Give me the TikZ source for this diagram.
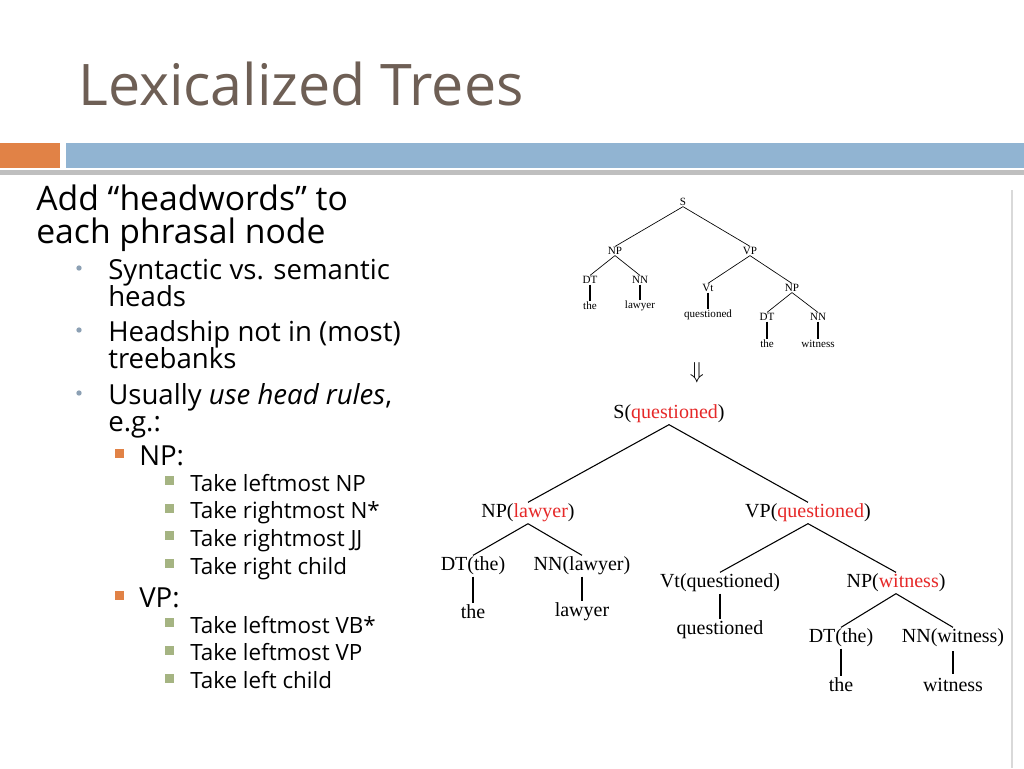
\documentclass[tikz,border=0pt]{standalone}
\usepackage{fontspec}
\setmainfont{Open Sans}
\newfontfamily\treefont{Liberation Serif}
\usepackage{amssymb}
\definecolor{titlecol}{RGB}{110,95,85}
\definecolor{barblue}{RGB}{145,180,210}
\definecolor{barorange}{RGB}{225,130,70}
\definecolor{bulgray}{RGB}{140,160,180}
\definecolor{bulgreen}{RGB}{165,180,130}
\definecolor{headred}{RGB}{230,40,40}
\tikzset{
  big/.style={font=\treefont\fontsize{15}{16}\selectfont, inner sep=1pt},
  small/.style={font=\treefont\fontsize{8.3}{9}\selectfont, inner sep=0.5pt},
  edge/.style={line width=0.8pt},
  leaf/.style={line width=1.4pt, shorten <=2pt, shorten >=2pt},
  sedge/.style={line width=0.5pt},
  sleaf/.style={line width=0.9pt},
  txt/.style={anchor=base west, inner sep=0pt, text=black},
}
\newcommand{\hw}[1]{\textcolor{headred}{#1}}
\begin{document}
\begin{tikzpicture}[x=0.75pt,y=-0.75pt]
\useasboundingbox (0,0) rectangle (1024,768);
\fill[white] (0,0) rectangle (1024,768);

% header bars
\fill[black!25] (0,170) rectangle (1024,175);
\fill[barorange] (0,143) rectangle (60,168);
\fill[barblue] (66,143) rectangle (1024,168);
\draw[black!15, line width=1pt] (1012,190) -- (1012,768);

\node[anchor=base west, inner sep=0pt, text=titlecol, font=\fontsize{43}{45}\selectfont] (title) at (78,105) {Lexicalized Trees};

% bullet text
\node[txt, font=\fontsize{25.3}{26}\selectfont] (l1a) at (36,210) {Add “headwords” to};
\node[txt, font=\fontsize{25.3}{26}\selectfont] (l1b) at (36,243) {each phrasal node};
\begin{scope}[font=\fontsize{20.7}{22}\selectfont]
\node[txt] (l2a) at (108,279) {Syntactic vs. semantic};
\node[txt] (l2b) at (108,306) {heads};
\node[txt] (l2c) at (108,341) {Headship not in (most)};
\node[txt] (l2d) at (108,368) {treebanks};
\node[txt] (l2e) at (108,404) {Usually \textit{use head rules},};
\node[txt] (l2f) at (108,431) {e.g.:};
\node[txt] (l3a) at (139,465) {NP:};
\node[txt] (l3b) at (139,607) {VP:};
\end{scope}
\foreach \y in {268,330,393} \fill[bulgray] (79,\y) circle (2pt);
\foreach \y in {455,597} \fill[barorange] (115,\y-6) rectangle (124,\y+3);
\begin{scope}[font=\fontsize{16.8}{18}\selectfont]
\foreach \t [count=\i] in {Take leftmost NP,Take rightmost N*,Take rightmost JJ,Take right child}
  \node[txt] at (190,491+27.7*\i-27.7) {\t};
\foreach \t [count=\i] in {Take leftmost VB*,Take leftmost VP,Take left child}
  \node[txt] at (190,633+27.7*\i-27.7) {\t};
\end{scope}
\foreach \y in {482,510,537,565,624,652,680} \fill[bulgreen] (165,\y-6) rectangle (174,\y+3);

% small tree
\node[small] (s) at (683,202) {S};
\node[small] (snp) at (615,251) {NP};
\node[small] (svp) at (750,251) {VP};
\node[small] (sdt1) at (590,280) {DT};
\node[small] (snn1) at (640,280) {NN};
\node[small] (sw1) at (590,306) {the};
\node[small] (sw2) at (640,306) {lawyer};
\node[small] (svt) at (708,288) {Vt};
\node[small] (sw3) at (708,315) {questioned};
\node[small] (snp2) at (792,288) {NP};
\node[small] (sdt2) at (767,317) {DT};
\node[small] (snn2) at (818,317) {NN};
\node[small] (sw4) at (767,344) {the};
\node[small] (sw5) at (818,344) {witness};
\draw[sedge] (s.south) -- (snp.north) (s.south) -- (svp.north)
  (snp.south) -- (sdt1.north) (snp.south) -- (snn1.north)
  (svp.south) -- (svt.north) (svp.south) -- (snp2.north)
  (snp2.south) -- (sdt2.north) (snp2.south) -- (snn2.north);
\draw[sleaf] (sdt1) -- (sw1) (snn1) -- (sw2) (svt) -- (sw3) (sdt2) -- (sw4) (snn2) -- (sw5);
\node[font=\fontsize{16}{16}\selectfont] (arr) at (697,373) {$\Downarrow$};

% lexicalized tree
\node[big] (S) at (669,414) {S(\hw{questioned})};
\node[big] (NPa) at (528,513) {NP(\hw{lawyer})};
\node[big] (VP) at (808,513) {VP(\hw{questioned})};
\node[big] (DTa) at (473,566) {DT(the)};
\node[big] (NNa) at (582,566) {NN(lawyer)};
\node[big] (Wa) at (473,612) {the};
\node[big] (Wb) at (582,612) {lawyer};
\node[big] (Vt) at (720,583) {Vt(questioned)};
\node[big] (Wc) at (720,630) {questioned};
\node[big] (NPb) at (896,583) {NP(\hw{witness})};
\node[big] (DTb) at (841,638) {DT(the)};
\node[big] (NNb) at (953,638) {NN(witness)};
\node[big] (Wd) at (841,685) {the};
\node[big] (We) at (953,685) {witness};
\draw[edge] (S.south) -- (NPa.north) (S.south) -- (VP.north)
  (NPa.south) -- (DTa.north) (NPa.south) -- (NNa.north)
  (VP.south) -- (Vt.north) (VP.south) -- (NPb.north)
  (NPb.south) -- (DTb.north) (NPb.south) -- (NNb.north);
\draw[leaf] (DTa) -- (Wa) (NNa) -- (Wb) (Vt) -- (Wc) (DTb) -- (Wd) (NNb) -- (We);
\end{tikzpicture}
\end{document}
